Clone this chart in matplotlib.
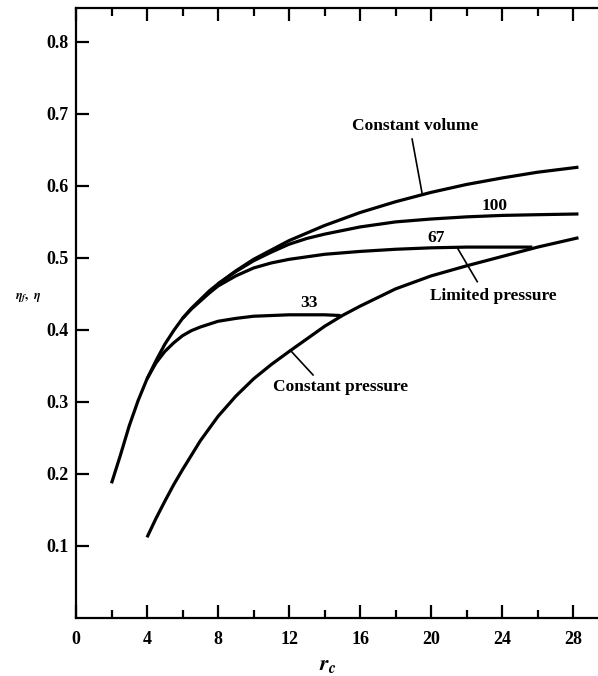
import matplotlib
matplotlib.use("Agg")
import matplotlib.pyplot as plt
from matplotlib.ticker import MultipleLocator, FixedLocator

plt.rcParams['font.family'] = ['Liberation Serif', 'DejaVu Serif']
plt.rcParams['font.weight'] = 'bold'
plt.rcParams['mathtext.fontset'] = 'stix'

# compression ratio r_c and efficiency values
cv_x = [2, 2.5, 3, 3.5, 4, 4.5, 5, 5.5, 6, 6.5, 7, 7.5, 8, 9, 10, 12, 14, 16, 18, 20,
        22, 24, 26, 28.3]
cv_y = [0.187, 0.226, 0.267, 0.302, 0.332, 0.357, 0.380, 0.399, 0.416, 0.430, 0.442,
        0.454, 0.464, 0.482, 0.498, 0.524, 0.545, 0.563, 0.578, 0.591, 0.602, 0.611,
        0.619, 0.626]

cp_x = [4, 4.5, 5, 5.5, 6, 7, 8, 9, 10, 11, 12, 14, 15, 16, 18, 20, 22, 24, 26, 28.3]
cp_y = [0.112, 0.138, 0.162, 0.185, 0.206, 0.246, 0.280, 0.308, 0.332, 0.352, 0.370,
        0.405, 0.420, 0.433, 0.457, 0.475, 0.489, 0.502, 0.515, 0.528]

lp100_x = [8, 9, 10, 11, 12, 13, 14, 16, 18, 20, 22, 24, 26, 28.3]
lp100_y = [0.464, 0.481, 0.496, 0.508, 0.519, 0.527, 0.533, 0.543, 0.550, 0.554,
           0.557, 0.559, 0.560, 0.561]

lp67_x = [6, 6.5, 7, 7.5, 8, 9, 10, 11, 12, 14, 16, 18, 20, 22, 24, 25.7]
lp67_y = [0.416, 0.429, 0.440, 0.451, 0.461, 0.475, 0.486, 0.493, 0.498, 0.505,
          0.509, 0.512, 0.514, 0.515, 0.515, 0.515]

lp33_x = [4, 4.5, 5, 5.5, 6, 6.5, 7, 8, 9, 10, 12, 14, 14.9]
lp33_y = [0.332, 0.354, 0.370, 0.382, 0.392, 0.399, 0.404, 0.412, 0.416, 0.419,
          0.421, 0.421, 0.420]

x_ticks = [0, 4, 8, 12, 16, 20, 24, 28]
y_ticks = [0.1, 0.2, 0.3, 0.4, 0.5, 0.6, 0.7, 0.8]

fig = plt.figure(figsize=(5.98, 6.76), dpi=100)
ax = fig.add_axes([76 / 598, 58 / 676, 522 / 598, 610 / 676])
ax.set_xlim(0, 29.4)
ax.set_ylim(0, 0.847)

lw = 2.3
for xs, ys in [(cv_x, cv_y), (cp_x, cp_y), (lp100_x, lp100_y),
               (lp67_x, lp67_y), (lp33_x, lp33_y)]:
    ax.plot(xs, ys, color='black', lw=lw, solid_capstyle='butt', solid_joinstyle='round')

# curve labels and leader lines
fs = 12.5
ax.text(19.1, 0.683, 'Constant volume', ha='center', va='center', fontsize=fs)
ax.plot([18.93, 19.49], [0.665, 0.590], color='black', lw=1.2)
ax.text(23.6, 0.572, '100', ha='center', va='center', fontsize=fs)
ax.text(20.3, 0.528, '67', ha='center', va='center', fontsize=fs)
ax.text(13.1, 0.4375, '33', ha='center', va='center', fontsize=fs)
ax.text(23.5, 0.447, 'Limited pressure', ha='center', va='center', fontsize=fs)
ax.plot([21.5, 22.6], [0.513, 0.467], color='black', lw=1.2)
ax.text(14.9, 0.321, 'Constant pressure', ha='center', va='center', fontsize=fs)
ax.plot([12.06, 13.35], [0.372, 0.3375], color='black', lw=1.2)

# axes styling
ax.spines['right'].set_visible(False)
for s in ['left', 'bottom', 'top']:
    ax.spines[s].set_linewidth(1.6)

ax.xaxis.set_major_locator(FixedLocator(x_ticks))
ax.xaxis.set_minor_locator(MultipleLocator(2))
ax.yaxis.set_major_locator(FixedLocator(y_ticks))
ax.set_xticklabels([str(v) for v in x_ticks])
ax.set_yticklabels(['%.1f' % v for v in y_ticks])

ax.tick_params(axis='x', which='major', direction='in', length=9.5, width=1.6,
               top=True, bottom=True, labelsize=13, pad=9)
ax.tick_params(axis='x', which='minor', direction='in', length=5.8, width=1.6,
               top=True, bottom=True)
ax.tick_params(axis='y', which='major', direction='in', length=9.5, width=1.6,
               left=True, right=False, labelsize=13, pad=5)

fig.text(328 / 598, 1 - 665 / 676, r'$r_c$', ha='center', va='center', fontsize=16)
fig.text(28 / 598, 1 - 298 / 676, r'$\eta_f,\ \eta$', ha='center', va='center', fontsize=9)

fig.savefig('out.png', dpi=100)
